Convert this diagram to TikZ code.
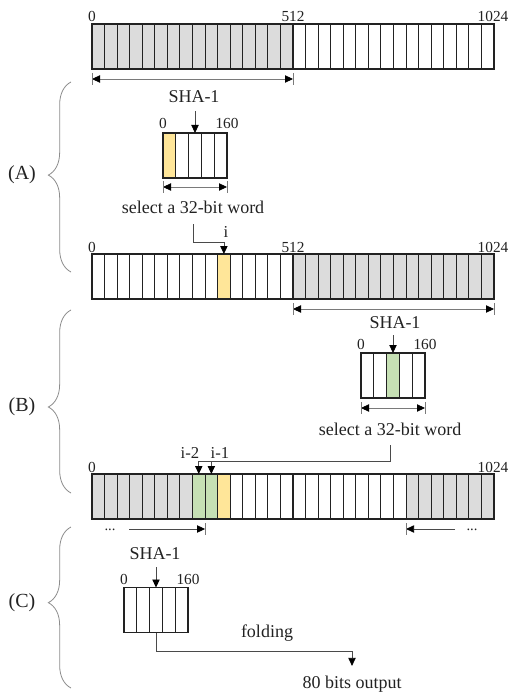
\documentclass[tikz,border=0pt]{standalone}
\usepackage{fontspec}
\setmainfont{Liberation Serif}
\usetikzlibrary{arrows.meta,decorations.pathreplacing,calc}

\definecolor{shade}{HTML}{DCDCDC}
\definecolor{pick}{HTML}{FFE699}
\definecolor{prev}{HTML}{C6E0B4}
\definecolor{ink}{HTML}{222222}
\definecolor{wire}{HTML}{4A4A4A}
\definecolor{dimgrey}{HTML}{7A7A7A}
\definecolor{bracegrey}{HTML}{8C8C8C}

\newcommand\dimtick[1]{\draw[tickline] ([yshift=4.5pt]#1) -- ([yshift=-4.5pt]#1);}
% outline a row of cells named #1 0..#2 and draw the dividers between them
\newcommand\cellgrid[2]{%
  \draw[gridline] (#10.north west) rectangle (#1#2.south east);
  \foreach \j in {1,...,#2}{\draw[gridline] (#1\j.north west) -- (#1\j.south west);}%
}

\begin{document}
\begin{tikzpicture}[x=0.75pt,y=-0.75pt,
  >={Triangle[length=6pt,width=5.5pt,color=black]},
  bigcell/.style={minimum width=9.4219pt,
    minimum height=33.75pt, inner sep=0pt, outer sep=0pt},
  smallcell/.style={minimum width=9.6pt,
    minimum height=33.75pt, inner sep=0pt, outer sep=0pt},
  gridline/.style={draw=ink, line width=0.8pt},
  num/.style={font=\fontsize{11.5}{13}\selectfont, text=ink, inner sep=0pt, anchor=base},
  lab/.style={font=\fontsize{13.5}{15}\selectfont, text=ink, inner sep=2pt, anchor=base},
  part/.style={font=\fontsize{15}{17}\selectfont, text=ink, inner sep=0pt},
  dots/.style={font=\fontsize{11}{12}\selectfont, text=ink, inner sep=0pt, anchor=base},
  dimline/.style={draw=dimgrey, line width=0.6pt, <->},
  tickline/.style={draw=dimgrey, line width=0.6pt},
  conn/.style={draw=wire, line width=0.6pt},
  bracestyle/.style={draw=bracegrey, line width=0.6pt, decorate},
]
\useasboundingbox (0,0) rectangle (509,695);

% ---------- top 1024-bit buffer ----------
\foreach \k in {0,...,31}{
  \ifnum\k<16 \def\fc{shade}\else\def\fc{white}\fi
  \node[bigcell,fill=\fc] (t\k) at ({92+(\k+0.5)*12.5625},46.5) {};
}
\cellgrid{t}{31}
\node[num] (tn0) at (92,22) {0};
\node[num] (tn1) at (293,22) {512};
\node[num] (tn2) at (493,22) {1024};
\coordinate (dt1) at (92,79);
\coordinate (dt2) at (293,79);
\draw[dimline] (dt1) -- (dt2);
\dimtick{dt1}\dimtick{dt2}

% ---------- (A) ----------
\node[lab] (shaA) at (194,103) {SHA-1};
\foreach \k in {0,...,4}{
  \ifnum\k=0 \def\fc{pick}\else\def\fc{white}\fi
  \node[smallcell,fill=\fc] (p\k) at ({163+(\k+0.5)*12.8},155.5) {};
}
\cellgrid{p}{4}
\draw[conn,->,shorten <=4pt] (p2.north |- shaA.south) -- (p2.north);
\node[num] (pn0) at (163,129) {0};
\node[num] (pn1) at (227,129) {160};
\coordinate (dp1) at (163,187);
\coordinate (dp2) at (227,187);
\draw[dimline] (dp1) -- (dp2);
\dimtick{dp1}\dimtick{dp2}
\node[lab] (selA) at (193,214) {select a 32-bit word};

\foreach \k in {0,...,31}{
  \ifnum\k<16
    \ifnum\k=10 \def\fc{pick}\else\def\fc{white}\fi
  \else\def\fc{shade}\fi
  \node[bigcell,fill=\fc] (a\k) at ({92+(\k+0.5)*12.5625},276.5) {};
}
\cellgrid{a}{31}
\node[num] (an0) at (92,252) {0};
\node[num] (an1) at (293,252) {512};
\node[num] (an2) at (493,252) {1024};
\coordinate (kA) at (a10.north |- 0,242);
\draw[conn,shorten <=5.5pt] (selA.south) |- (kA);
\draw[conn,->] (kA) -- (a10.north);
\node[num, font=\fontsize{12.5}{14}\selectfont] (iA) at (226,238) {i};

\coordinate (da1) at (293,309);
\coordinate (da2) at (494,309);
\draw[dimline] (da1) -- (da2);
\dimtick{da1}\dimtick{da2}

% ---------- (B) ----------
\node[lab] (shaB) at (395,328) {SHA-1};
\foreach \k in {0,...,4}{
  \ifnum\k=2 \def\fc{prev}\else\def\fc{white}\fi
  \node[smallcell,fill=\fc] (q\k) at ({361+(\k+0.5)*12.8},375.5) {};
}
\cellgrid{q}{4}
\draw[conn,->,shorten <=3pt] (q2.north |- shaB.south) -- (q2.north);
\node[num] (qn0) at (361,349) {0};
\node[num] (qn1) at (425,349) {160};
\coordinate (dq1) at (361,408);
\coordinate (dq2) at (425,408);
\draw[dimline] (dq1) -- (dq2);
\dimtick{dq1}\dimtick{dq2}
\node[lab] (selB) at (390,435) {select a 32-bit word};

\foreach \k in {0,...,31}{
  \ifnum\k<8 \def\fc{shade}\else
    \ifnum\k<10 \def\fc{prev}\else
      \ifnum\k=10 \def\fc{pick}\else
        \ifnum\k<25 \def\fc{white}\else\def\fc{shade}\fi
      \fi
    \fi
  \fi
  \node[bigcell,fill=\fc] (c\k) at ({92+(\k+0.5)*12.5625},496.5) {};
}
\cellgrid{c}{31}
\node[num] (cn0) at (92,472) {0};
\node[num] (cn2) at (493,472) {1024};
\coordinate (kB) at (c8.north |- 0,461);
\coordinate (kB1) at (c9.north |- 0,461);
\draw[conn,shorten <=5.5pt] (selB.south) |- (kB);
\draw[conn,->] (kB) -- (c8.north);
\draw[conn,->] (kB1) -- (c9.north);
\node[num, font=\fontsize{12.5}{14}\selectfont] (iB2) at (190,458) {i-2};
\node[num, font=\fontsize{12.5}{14}\selectfont] (iB1) at (220,458) {i-1};

% sliding window marks under the buffer
\node[dots] (dl) at (110,530) {...};
\coordinate (wl1) at (129,529);
\coordinate (wl2) at (c8.south east |- 0,529);
\draw[conn,->] (wl1) -- (wl2);
\dimtick{wl2}
\node[dots] (dr) at (472,530) {...};
\coordinate (wr1) at (455,529);
\coordinate (wr2) at (c25.south west |- 0,529);
\draw[conn,->] (wr1) -- (wr2);
\dimtick{wr2}

% ---------- (C) ----------
\node[lab] (shaC) at (155,559) {SHA-1};
\foreach \k in {0,...,4}{
  \node[smallcell,fill=white] (r\k) at ({124+(\k+0.5)*12.8},610) {};
}
\cellgrid{r}{4}
\draw[conn,->,shorten <=4pt] (r2.north |- shaC.south) -- (r2.north);
\node[num] (rn0) at (124,584) {0};
\node[num] (rn1) at (188,584) {160};
\node[lab] (fold) at (267,637) {folding};
\node[lab] (outC) at (352,688) {80 bits output};
\coordinate (kC) at (outC.north |- 0,651);
\draw[conn] (r2.south) |- (kC);
\draw[conn,->,shorten >=5pt] (kC) -- (outC.north);

% ---------- braces ----------
\coordinate (bA1) at (71,272); \coordinate (bA2) at (71,82);
\coordinate (bB1) at (71,493); \coordinate (bB2) at (71,310);
\coordinate (bC1) at (71,688); \coordinate (bC2) at (71,527);
\draw[bracestyle, decoration={brace,amplitude=17pt,aspect=0.51}] (bA1) -- (bA2);
\draw[bracestyle, decoration={brace,amplitude=17pt,aspect=0.47}] (bB1) -- (bB2);
\draw[bracestyle, decoration={brace,amplitude=17pt,aspect=0.53}] (bC1) -- (bC2);
\node[part] (pA) at (22,175) {(A)};
\node[part] (pB) at (22,407) {(B)};
\node[part] (pC) at (22,603) {(C)};
\end{tikzpicture}
\end{document}
